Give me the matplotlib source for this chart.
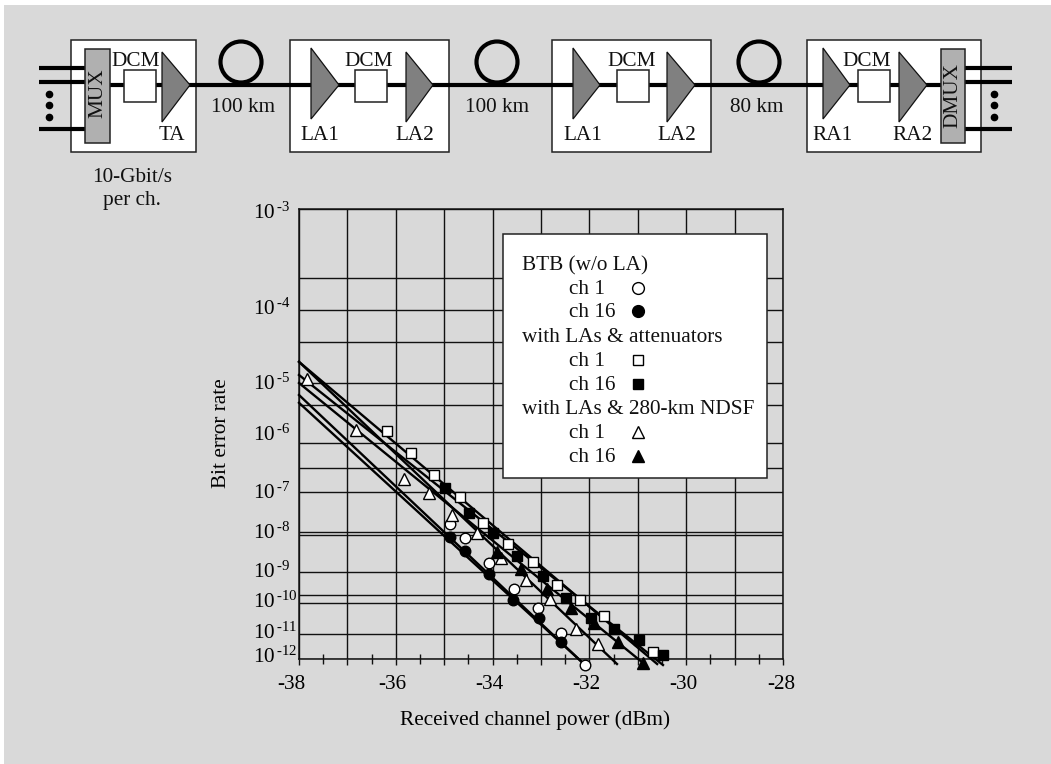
import numpy as np
import matplotlib
matplotlib.use("Agg")
import matplotlib.pyplot as plt
from matplotlib.patches import Rectangle, Polygon, Circle
from matplotlib.transforms import ScaledTranslation, Affine2D

plt.rcParams['font.family'] = ['Liberation Serif', 'DejaVu Serif']
plt.rcParams['mathtext.fontset'] = 'custom'
plt.rcParams['mathtext.rm'] = 'Liberation Serif'
plt.rcParams['mathtext.it'] = 'Liberation Serif'
plt.rcParams['mathtext.bf'] = 'Liberation Serif'
plt.rcParams['mathtext.default'] = 'rm'

# ---- data: x = received power (dBm), y = log10(bit error rate) ----
btb_ch1_x = [-34.88, -34.57, -34.07, -33.56, -33.06, -32.59, -32.09]
btb_ch1_y = [-7.75, -8.09, -8.77, -9.55, -10.16, -10.97, -12.24]
btb_ch16_x = [-34.88, -34.57, -34.07, -33.58, -33.04, -32.59]
btb_ch16_y = [-8.06, -8.43, -9.06, -9.90, -10.48, -11.32]
att_ch1_x = [-36.18, -35.69, -35.21, -34.67, -34.20, -33.68, -33.17, -32.67, -32.19, -31.70, -30.69]
att_ch1_y = [-5.80, -6.20, -6.65, -7.12, -7.72, -8.25, -8.74, -9.42, -9.90, -10.42, -11.72]
att_ch16_x = [-34.98, -34.48, -33.99, -33.50, -32.96, -32.48, -31.97, -31.49, -30.98, -30.48]
att_ch16_y = [-6.92, -7.48, -7.96, -8.58, -9.13, -9.84, -10.48, -10.84, -11.24, -11.84]
ndsf_ch1_x = [-37.83, -36.82, -35.83, -35.31, -34.84, -34.32, -33.83, -33.31, -32.81, -32.28, -31.82]
ndsf_ch1_y = [-4.95, -5.78, -6.73, -7.02, -7.53, -7.96, -8.61, -9.26, -9.87, -10.84, -11.40]
ndsf_ch16_x = [-33.91, -33.41, -32.88, -32.38, -31.90, -31.41, -30.89]
ndsf_ch16_y = [-8.45, -8.92, -9.55, -10.16, -10.65, -11.32, -12.16]

# fitted straight lines (start, end)
fit_btb_ch1_x, fit_btb_ch1_y = [-38, -32.09], [-5.20, -12.24]
fit_btb_ch16_x, fit_btb_ch16_y = [-38, -32.09], [-5.33, -12.24]
fit_att_ch1_x, fit_att_ch1_y = [-38, -30.60], [-4.71, -12.20]
fit_att_ch16_x, fit_att_ch16_y = [-38, -30.48], [-4.89, -12.24]
fit_ndsf_ch1_x, fit_ndsf_ch1_y = [-38, -31.43], [-4.71, -12.20]
fit_ndsf_ch16_x, fit_ndsf_ch16_y = [-38, -30.89], [-5.00, -12.16]

x_ticks = list(range(-38, -27))
x_labels = ['-38', '', '-36', '', '-34', '', '-32', '', '-30', '', '-28']
x_half = [-37.5 + i for i in range(10)]
y_exps = [-3, -4, -5, -6, -7, -8, -9, -10, -11, -12]
y_labels = [r'$\mathrm{10^{\,\text{-}%d}}$' % (-e) for e in y_exps]
y_extra = [-3.68, -4.44, -5.37, -6.51, -7.93, -9.74]

# paper-graph scale of the y axis: pixel position of each decade
scale_exp = [-13, -12, -11, -10, -9, -8, -7, -6, -5, -4, -3]
scale_pos = [-25, 0, 25, 56, 87, 124, 167, 216, 276, 349, 450]

W, H = 1051, 764
fig = plt.figure(figsize=(W / 100, H / 100), dpi=100, facecolor='white')
FS = 15.3
INK = '#111111'
PIXELS = Affine2D().scale(1, -1).translate(0, H)

fig.add_artist(Rectangle((4 / W, 0), (W - 4) / W, (H - 5) / H, transform=fig.transFigure,
                         facecolor='#d9d9d9', edgecolor='none', zorder=-5))

ax = fig.add_axes([299 / W, 1 - 659 / H, (783 - 299) / W, (659 - 209) / H])
ax.patch.set_visible(False)
ax.set_yscale('function', functions=(lambda v: np.interp(v, scale_exp, scale_pos),
                                     lambda v: np.interp(v, scale_pos, scale_exp)))
ax.set_xlim(-38, -28)
ax.set_ylim(-12, -3)
ax.set_xticks(x_ticks, x_labels, fontsize=FS)
ax.set_xticks(x_half, minor=True)
ax.set_yticks(y_exps, y_labels, fontsize=FS)
ax.set_yticks(y_extra, minor=True)
ax.tick_params(axis='x', which='major', direction='out', length=4, width=1.0, color=INK, pad=10)
ax.tick_params(axis='x', which='minor', direction='inout', length=7, width=1.0, color=INK)
ax.tick_params(axis='y', which='both', length=0)
ax.grid(True, which='major', color=INK, lw=1.0)
ax.grid(True, which='minor', axis='y', color=INK, lw=1.0)
ax.set_axisbelow(True)
for s in ax.spines.values():
    s.set_linewidth(1.1)
    s.set_color(INK)

# printed tick labels sit off their grid lines in the original
x_off = [-7.5, -3.8, -3.0, -3.4, -2.7, -2.0]
for lab, dx in zip([l for l in ax.get_xticklabels() if l.get_text()], x_off):
    lab.set_transform(ax.get_xaxis_transform(which='grid') +
                      ScaledTranslation(dx / 100, -30 / 100, fig.dpi_scale_trans))
    lab.set_verticalalignment('baseline')
y_off = [-10, -5, -7, 2, -7, -4, -6, -5, -5, -4]
for lab, dy in zip(ax.get_yticklabels(), y_off):
    lab.set_transform(ax.get_yaxis_transform(which='grid') +
                      ScaledTranslation((253 - 299) / 100, dy / 100, fig.dpi_scale_trans))
    lab.set_horizontalalignment('left')
    lab.set_verticalalignment('baseline')

for fx, fy in [(fit_btb_ch1_x, fit_btb_ch1_y), (fit_btb_ch16_x, fit_btb_ch16_y),
               (fit_att_ch1_x, fit_att_ch1_y), (fit_att_ch16_x, fit_att_ch16_y),
               (fit_ndsf_ch1_x, fit_ndsf_ch1_y), (fit_ndsf_ch16_x, fit_ndsf_ch16_y)]:
    ax.plot(fx, fy, color='black', lw=1.7, clip_on=False, zorder=3)

series = [(btb_ch1_x, btb_ch1_y, 'o', 'white', 7.6), (btb_ch16_x, btb_ch16_y, 'o', 'black', 7.6),
          (att_ch1_x, att_ch1_y, 's', 'white', 6.6), (att_ch16_x, att_ch16_y, 's', 'black', 6.6),
          (ndsf_ch1_x, ndsf_ch1_y, '^', 'white', 8.2), (ndsf_ch16_x, ndsf_ch16_y, '^', 'black', 8.2)]
for sx, sy, m, fc, ms in series:
    ax.plot(sx, sy, ls='none', marker=m, mfc=fc, mec='black', mew=1.0, ms=ms, clip_on=False, zorder=4)

ax.text(221, 433, 'Bit error rate', rotation=90, ha='center', va='center', fontsize=FS, transform=PIXELS)
ax.text(535, 720, 'Received channel power (dBm)', ha='center', va='center', fontsize=FS, transform=PIXELS)

# ---- overlay in pixel coordinates: system schematic and key ----
ov = fig.add_axes([0, 0, 1, 1], zorder=5)
ov.set_xlim(0, W)
ov.set_ylim(H, 0)
ov.axis('off')


def T(x, y, s, **kw):
    kw.setdefault('ha', 'center')
    kw.setdefault('va', 'center')
    ov.text(x, y, s, fontsize=FS, color='#111111', **kw)


def box(x0, x1, y0, y1, fc='white', z=2):
    ov.add_patch(Rectangle((x0, y0), x1 - x0, y1 - y0, facecolor=fc, edgecolor='#222222', lw=1.1, zorder=z))


for x0, x1 in [(71, 196), (290, 449), (552, 711), (807, 981)]:
    box(x0, x1, 40, 152, z=1)
ov.plot([110, 941], [85, 85], color='black', lw=3.0, zorder=2, solid_capstyle='butt')
for cx in [241, 497, 759]:
    ov.add_patch(Circle((cx, 62), 20.5, facecolor='none', edgecolor='black', lw=3.0, zorder=3))
for yy in [68, 82, 129]:
    ov.plot([39, 85], [yy, yy], color='black', lw=3.0, zorder=2, solid_capstyle='butt')
    ov.plot([965, 1012], [yy, yy], color='black', lw=3.0, zorder=2, solid_capstyle='butt')
for yy in [94, 105, 117]:
    ov.plot([49, 994], [yy, yy], ls='none', marker='o', ms=4.5, color='black', zorder=3)
box(85, 110, 49, 143, fc='#b0b0b0', z=3)
box(941, 965, 49, 143, fc='#b0b0b0', z=3)
T(98, 93, 'MUX', rotation=90, zorder=6)
T(953, 96, 'DMUX', rotation=90, zorder=6)
for x0 in [124, 355, 617, 858]:
    box(x0, x0 + 32, 70, 102, z=3)
for base, tip, y0, y1 in [(162, 190, 52, 122), (311, 339, 48, 119), (406, 433, 52, 122),
                          (573, 600, 48, 119), (667, 695, 52, 122), (823, 850, 48, 119), (899, 927, 52, 122)]:
    ov.add_patch(Polygon([(base, y0), (tip, 85), (base, y1)], closed=True, facecolor='#808080',
                         edgecolor='#111111', lw=0.9, zorder=4))
for x, s in [(136, 'DCM'), (369, 'DCM'), (632, 'DCM'), (867, 'DCM')]:
    T(x, 61, s, zorder=6)
for x, s in [(243, '100 km'), (497, '100 km'), (757, '80 km')]:
    T(x, 108, s, zorder=6)
for x, s in [(172, 'TA'), (320, 'LA1'), (415, 'LA2'), (583, 'LA1'), (677, 'LA2'), (833, 'RA1'), (912, 'RA2')]:
    T(x, 136, s, zorder=6)
T(132, 178, '10-Gbit/s')
T(132, 201, 'per ch.')

box(503, 767, 234, 478, z=2)
rows = [(264, 522, 'BTB (w/o LA)', None, None), (288, 569, 'ch 1', 'o', 'white'), (311, 569, 'ch 16', 'o', 'black'),
        (336, 522, 'with LAs & attenuators', None, None), (360, 569, 'ch 1', 's', 'white'),
        (384, 569, 'ch 16', 's', 'black'), (408, 522, 'with LAs & 280-km NDSF', None, None),
        (432, 569, 'ch 1', '^', 'white'), (456, 569, 'ch 16', '^', 'black')]
for yy, xx, s, m, fc in rows:
    T(xx, yy + 1.5, s, ha='left', zorder=6)
    if m:
        ov.plot([638], [yy], ls='none', marker=m, mfc=fc, mec='black', mew=1.0,
                ms={'o': 8.5, 's': 7.0, '^': 9.0}[m], zorder=6)

fig.savefig('out.png', dpi=100, facecolor='white')
